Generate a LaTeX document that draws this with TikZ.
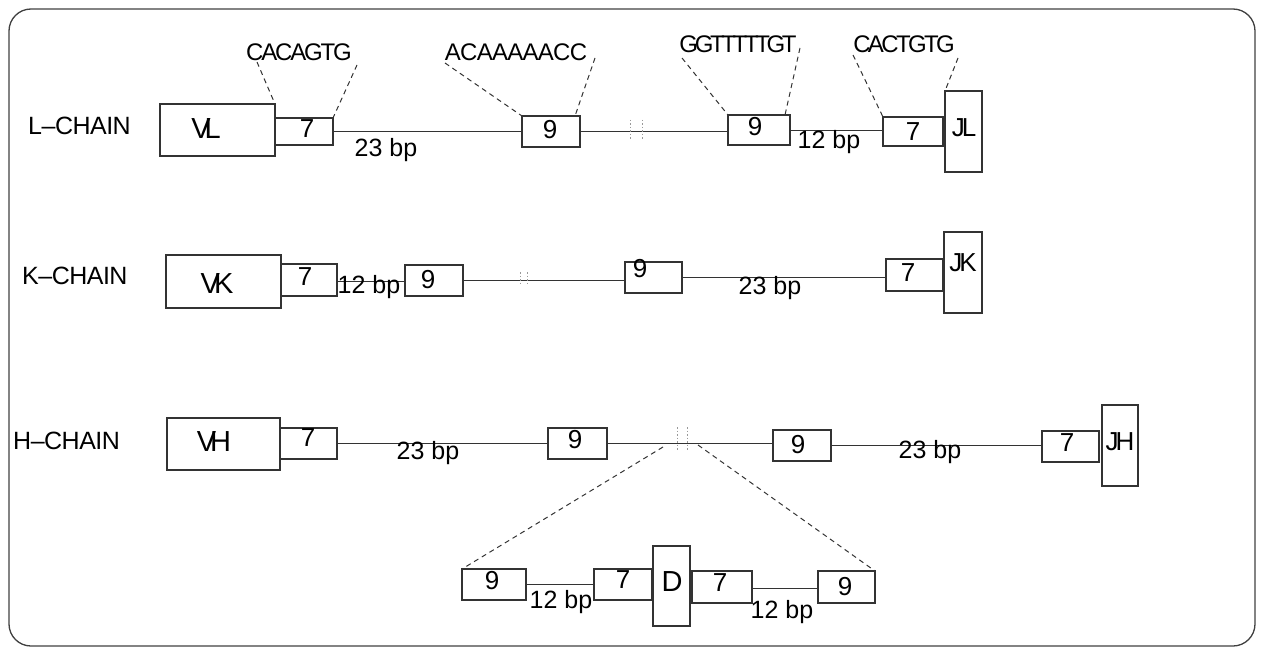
\documentclass[tikz,border=0pt]{standalone}
\usepackage{fontspec}
\setmainfont{Liberation Sans}
\usetikzlibrary{calc}
\newcommand{\gbox}[5]{\node[box, minimum width={#4-#2}, minimum height={#5-#3}] (#1) at ({(#2+#4)/2},{(#3+#5)/2}) {};}
\tikzset{
 box/.style={draw=black!80, line width=1.1pt, inner sep=0pt, outer sep=0pt},
 lbl/.style={inner sep=0pt, font=\fontsize{26}{30}\selectfont, text=black},
 bp/.style={inner sep=0pt, font=\fontsize{25}{30}\selectfont, text=black},
 chain/.style={inner sep=0pt, font=\fontsize{25}{30}\selectfont\addfontfeature{LetterSpace=-2}, text=black},
 big/.style={inner sep=0pt, font=\fontsize{29}{32}\selectfont, text=black},
 jlbl/.style={inner sep=0pt, font=\fontsize{26}{30}\selectfont, text=black},
 seq/.style={inner sep=0pt, text=black},
 conn/.style={draw=black!80, line width=0.9pt},
 guide/.style={draw=black!80, line width=1pt, dash pattern=on 5pt off 4pt},
 brk/.style={draw=black!40, line width=0.7pt, dash pattern=on 1.5pt off 2pt},
 frame/.style={draw=black!75, line width=1.3pt, rounded corners=22pt},
}
\begin{document}
\begin{tikzpicture}[x=1pt,y=-1pt]
\useasboundingbox (0,0) rectangle (1261,650);
\draw[frame] (9,9) rectangle (1255,646);

% ---------------- L chain ----------------
\node[chain, anchor=west] (lname) at (28,126) {L–CHAIN};
\gbox{vl}{160}{104}{275}{156}
\gbox{l7a}{275}{118}{333}{145}
\gbox{l9a}{522}{116}{580}{147}
\gbox{l9b}{728}{115}{790}{145}
\gbox{l7b}{883}{117}{943}{146}
\gbox{jl}{945}{91}{982}{172}
\node[big] (tvl) at (206,129) {V\kern-6pt L};
\node[lbl] (tl7a) at (307,129) {7};
\node[lbl] (tl9a) at (550,130) {9};
\node[lbl] (tl9b) at (755,127) {9};
\node[lbl] (tl7b) at (913,132) {7};
\node[jlbl] (tjl) at (964,128) {J\kern-3pt L};
\draw[conn] (l7a.east) -- (l7a.east -| l9a.west);
\draw[conn] (l9a.east) -- (l9a.east -| l9b.west);
\draw[conn] (l9b.east) -- (l9b.east -| l7b.west);
\draw[brk] (630,120) -- (630,140);
\draw[brk] (642,120) -- (642,140);
\node[bp] (bp1) at (386,150) {23 bp};
\node[bp] (bp2) at (829,142) {12 bp};

\node[seq, font={\fontsize{24}{28}\selectfont\addfontfeature{LetterSpace=-9}}] (s1) at (299,52) {CACAGTG};
\node[seq, font={\fontsize{24}{28}\selectfont\addfontfeature{LetterSpace=-3}}] (s2) at (516,52) {ACAAAAACC};
\node[seq, font={\fontsize{24}{28}\selectfont\addfontfeature{LetterSpace=-14}}] (s3) at (738,44) {GGTTTTTGT};
\node[seq, font={\fontsize{24}{28}\selectfont\addfontfeature{LetterSpace=-11}}] (s4) at (904,44) {CACTGTG};
\coordinate (s1l) at (257,62); \coordinate (s1r) at (357,65);
\coordinate (s2l) at (445,63); \coordinate (s2r) at (595,58);
\coordinate (s3l) at (682,58); \coordinate (s3r) at (800,48);
\coordinate (s4l) at (853,55); \coordinate (s4r) at (958,58);
\draw[guide] (s1l) -- (vl.north east);
\draw[guide] (s1r) -- (l7a.north east);
\draw[guide] (s2l) -- (l9a.north west);
\draw[guide] (s2r) -- ([xshift=-5pt]l9a.north east);
\draw[guide] (s3l) -- (l9b.north west);
\draw[guide] (s3r) -- ([xshift=-5pt]l9b.north east);
\draw[guide] (s4l) -- (l7b.north west);
\draw[guide] (s4r) -- (jl.north west);

% ---------------- K chain ----------------
\node[chain, anchor=west] (kname) at (22,276) {K–CHAIN};
\gbox{vk}{166}{255}{281}{308}
\gbox{k7a}{281}{264}{337}{296}
\gbox{k9a}{405}{265}{463}{296}
\gbox{k9b}{625}{262}{682}{293}
\gbox{k7b}{886}{259}{943}{291}
\gbox{jk}{944}{232}{982}{313}
\node[big] (tvk) at (217,284) {V\kern-6pt K};
\node[lbl] (tk7a) at (305,277) {7};
\node[lbl] (tk9a) at (428,280) {9};
\node[lbl] (tk9b) at (640,269) {9};
\node[lbl] (tk7b) at (908,273) {7};
\node[jlbl] (tjk) at (963,263) {J\kern-3pt K};
\draw[conn] ([yshift=-1pt]k7a.east) -- ([yshift=-1pt]k7a.east -| k9a.west);
\draw[conn] (k9a.east) -- (k9a.east -| k9b.west);
\draw[conn] (k9b.east) -- (k9b.east -| k7b.west);
\draw[brk] (520,272) -- (520,286);
\draw[brk] (527,272) -- (527,286);
\node[bp] (bp3) at (369,287) {12 bp};
\node[bp] (bp4) at (770,288) {23 bp};

% ---------------- H chain ----------------
\node[chain, anchor=west] (hname) at (13,441) {H–CHAIN};
\gbox{vh}{167}{418}{280}{470}
\gbox{h7a}{280}{428}{337}{459}
\gbox{h9a}{548}{428}{607}{459}
\gbox{h9b}{773}{430}{831}{461}
\gbox{h7b}{1042}{431}{1099}{462}
\gbox{jh}{1102}{405}{1138}{486}
\node[big] (tvh) at (214,442) {V\kern-6pt H};
\node[lbl] (th7a) at (308,438) {7};
\node[lbl] (th9a) at (575,440) {9};
\node[lbl] (th9b) at (798,445) {9};
\node[lbl] (th7b) at (1067,443) {7};
\node[jlbl] (tjh) at (1120,442) {J\kern-3pt H};
\draw[conn] (h7a.east) -- (h7a.east -| h9a.west);
\draw[conn] (h9a.east) -- (h9a.east -| h9b.west);
\draw[conn] (h9b.east) -- (h9b.east -| h7b.west);
\draw[brk] (677,427) -- (677,450);
\draw[brk] (687,427) -- (687,450);
\node[bp] (bp5) at (428,453) {23 bp};
\node[bp] (bp6) at (930,452) {23 bp};

% ---------------- D segment ----------------
\gbox{d9a}{462}{569}{526}{600}
\gbox{d7a}{594}{569}{652}{600}
\gbox{dd}{653}{546}{690}{626}
\gbox{d7b}{692}{571}{752}{603}
\gbox{d9b}{818}{571}{875}{603}
\node[lbl] (td9a) at (492,581) {9};
\node[lbl] (td7a) at (623,580) {7};
\node[big] (tdd) at (672,582) {D};
\node[lbl] (td7b) at (720,583) {7};
\node[lbl] (td9b) at (845,587) {9};
\draw[conn] (d9a.east) -- (d9a.east -| d7a.west);
\draw[conn] ([yshift=-1pt]d7b.east) -- ([yshift=-1pt]d7b.east -| d9b.west);
\node[bp] (bp7) at (561,602) {12 bp};
\node[bp] (bp8) at (782,612) {12 bp};
\coordinate (dl) at (663,447); \coordinate (dr) at (698,445);
\draw[guide] (dl) -- (d9a.north west);
\draw[guide] (dr) -- (d9b.north east);
\end{tikzpicture}
\end{document}
